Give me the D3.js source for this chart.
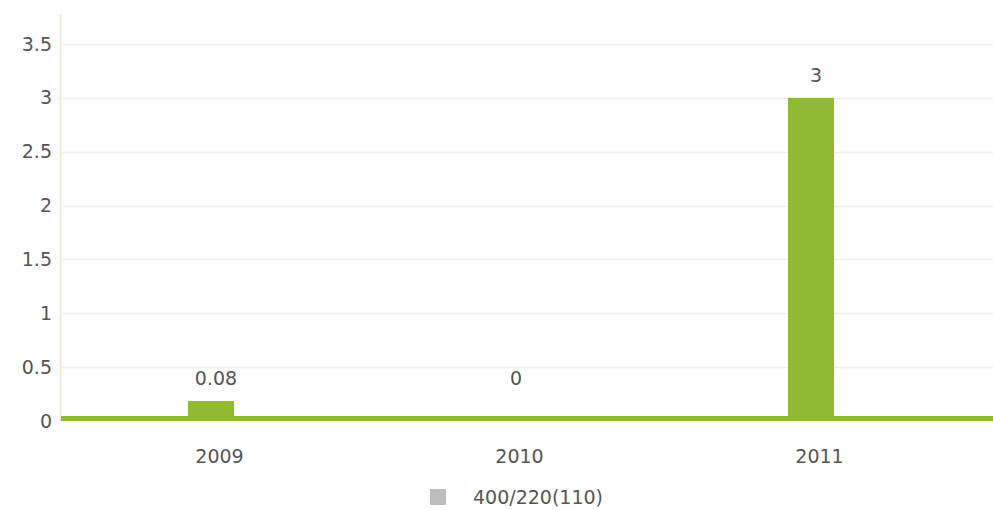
<!DOCTYPE html>
<html>
<head>
<meta charset="utf-8">
<script src="https://cdn.jsdelivr.net/npm/d3@7/dist/d3.min.js"></script>
<style>
  html, body { margin: 0; padding: 0; background: #fff; }
  svg { display: block; }
  text { font-family: "DejaVu Sans", sans-serif; fill: #555; }
</style>
</head>
<body>
<svg id="chart" width="993" height="510"></svg>
<script>
// ---- data ----
const categories = ["2009", "2010", "2011"];
const values = [0.08, 0, 3];
const valueLabels = ["0.08", "0", "3"];
const yTicks = [0, 0.5, 1, 1.5, 2, 2.5, 3, 3.5];
const yTickLabels = ["0", "0.5", "1", "1.5", "2", "2.5", "3", "3.5"];
const seriesName = "400/220(110)";

// ---- layout ----
const W = 993, H = 510;
const plotLeft = 61, plotRight = 961, plotEnd = 993;
const yTop = 44, yBottom = 421;
const barWidth = 46;
const minBarPx = 20;
const green = "#8fba32";

const svg = d3.select("#chart");

const x = d3.scalePoint().domain(categories).range([plotLeft, plotRight]).padding(0.5);
const y = d3.scaleLinear().domain([0, 3.5]).range([yBottom, yTop]);

// gridlines
svg.append("g")
  .selectAll("line")
  .data(yTicks.filter(t => t > 0))
  .join("line")
  .attr("x1", plotLeft + 1).attr("x2", plotEnd)
  .attr("y1", d => Math.round(y(d)) + 0.5).attr("y2", d => Math.round(y(d)) + 0.5)
  .attr("stroke", "#efefef").attr("stroke-width", 1.5);

// y axis
const yAxis = d3.axisLeft(y).tickValues(yTicks)
  .tickFormat((d, i) => yTickLabels[i]).tickSize(0).tickPadding(9);
const gy = svg.append("g").attr("transform", `translate(${plotLeft},0)`).call(yAxis);
gy.select(".domain").remove();
gy.selectAll("text").style("font-size", "19px").attr("fill", "#555");
svg.append("line")
  .attr("x1", plotLeft - 0.5).attr("x2", plotLeft - 0.5)
  .attr("y1", 14).attr("y2", yBottom)
  .attr("stroke", "#eceedb").attr("stroke-width", 2);

// bars
const barH = v => v > 0 ? Math.max(y(0) - y(v), minBarPx) : 0;
svg.append("g")
  .selectAll("rect")
  .data(values)
  .join("rect")
  .attr("x", (d, i) => x(categories[i]) - barWidth / 2)
  .attr("width", barWidth)
  .attr("y", d => y(0) - barH(d))
  .attr("height", d => barH(d))
  .attr("fill", green);

// baseline
svg.append("rect")
  .attr("x", plotLeft).attr("width", plotEnd - plotLeft)
  .attr("y", y(0) - 5).attr("height", 5)
  .attr("fill", green);

// value labels
svg.append("g")
  .selectAll("text")
  .data(values)
  .join("text")
  .attr("x", (d, i) => x(categories[i]) + 5)
  .attr("y", d => Math.min(y(0) - barH(d) - 16, y(0) - 36))
  .attr("text-anchor", "middle")
  .style("font-size", "19px")
  .text((d, i) => valueLabels[i]);

// x axis labels
const xAxis = d3.axisBottom(x).tickSize(0).tickPadding(29);
const gx = svg.append("g").attr("transform", `translate(0,${y(0)})`).call(xAxis);
gx.select(".domain").remove();
gx.selectAll("text").style("font-size", "19px").attr("fill", "#555").attr("dx", 8);

// legend
const lg = svg.append("g").attr("transform", "translate(430,489)");
lg.append("rect").attr("width", 16).attr("height", 16).attr("fill", "#bdbdbd");
lg.append("text").attr("x", 43).attr("y", 15).style("font-size", "19px").text(seriesName);
</script>
</body>
</html>
